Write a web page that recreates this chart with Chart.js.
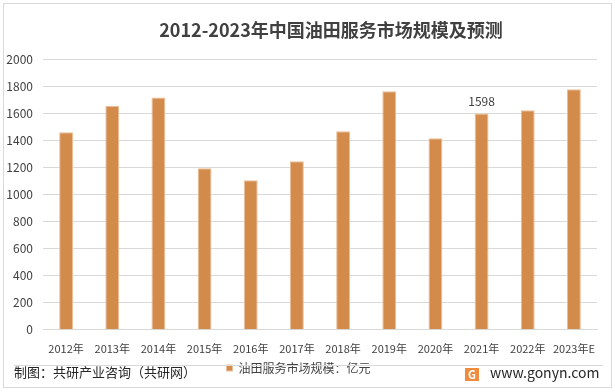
<!DOCTYPE html>
<html>
<head>
<meta charset="utf-8">
<script src="https://cdn.jsdelivr.net/npm/chart.js@4"></script>
<style>
  html, body { margin: 0; padding: 0; background: #fff; }
  #wrap { width: 615px; height: 392px; position: relative; }
</style>
</head>
<body>
<div id="wrap"><canvas id="myChart" width="615" height="392"></canvas></div>
<script>
const years = ['2012年', '2013年', '2014年', '2015年', '2016年', '2017年', '2018年', '2019年', '2020年', '2021年', '2022年', '2023年E'];
const marketSize = [1459, 1652, 1716, 1193, 1104, 1244, 1467, 1761, 1415, 1598, 1622, 1776];
const labelIndex = [9];
const yTicks = [0, 200, 400, 600, 800, 1000, 1200, 1400, 1600, 1800, 2000];
const titleText = '2012-2023年中国油田服务市场规模及预测';

const FONT = '"Noto Sans CJK SC", "Noto Sans", sans-serif';

// 标题、外框、底部分隔线、制图信息、数据标签
const decor = {
  id: 'decor',
  beforeDraw(chart) {
    const c = chart.ctx;
    c.save();
    c.fillStyle = '#fff';
    c.fillRect(0, 0, chart.width, chart.height);
    c.restore();
  },
  afterDraw(chart) {
    const c = chart.ctx;
    c.save();
    c.strokeStyle = '#d9d9d9';
    c.lineWidth = 1;
    c.strokeRect(3.5, 3.5, 608, 384);
    c.beginPath();
    c.moveTo(14, 365.5);
    c.lineTo(603, 365.5);
    c.stroke();

    c.fillStyle = '#404040';
    c.font = 'bold 18px ' + FONT;
    c.textAlign = 'center';
    c.textBaseline = 'middle';
    c.fillText(titleText, 331, 30);

    c.fillStyle = '#262626';
    c.font = '13px ' + FONT;
    c.textAlign = 'left';
    c.fillText('制图：共研产业咨询（共研网）', 14, 372);

    // gonyn logo + url
    c.fillStyle = '#f08a3c';
    c.fillRect(465, 368, 14, 13);
    c.fillStyle = '#fff';
    c.font = 'bold 11px ' + FONT;
    c.textAlign = 'center';
    c.fillText('G', 472, 374.5);
    c.fillStyle = '#262626';
    c.font = '14px ' + FONT;
    c.textAlign = 'left';
    c.fillText('www.gonyn.com', 490, 373);

    // 数据标签
    const meta = chart.getDatasetMeta(0);
    c.fillStyle = '#404040';
    c.font = '12px ' + FONT;
    c.textAlign = 'center';
    c.textBaseline = 'bottom';
    labelIndex.forEach(i => {
      const bar = meta.data[i];
      c.fillText(String(marketSize[i]), bar.x, bar.y - 6);
    });
    c.restore();
  }
};

const ctx = document.getElementById('myChart');
new Chart(ctx, {
  type: 'bar',
  data: {
    labels: years,
    datasets: [{
      label: '油田服务市场规模：亿元',
      data: marketSize,
      backgroundColor: '#d38b4c',
      borderColor: '#ecbd96',
      borderWidth: 1,
      barPercentage: 0.3,
      categoryPercentage: 1
    }]
  },
  options: {
    responsive: false,
    animation: false,
    layout: { padding: { left: 0, right: 18, top: 59, bottom: 8 } },
    scales: {
      x: {
        grid: { display: false },
        border: { color: '#d9d9d9' },
        ticks: { color: '#404040', font: { family: FONT, size: 11 }, maxRotation: 0, autoSkip: false, padding: 4.5 }
      },
      y: {
        min: 0,
        max: 2000,
        afterBuildTicks(axis) { axis.ticks = yTicks.map(v => ({ value: v })); },
        afterFit(axis) { axis.width = 43; },
        grid: { color: '#d9d9d9', drawTicks: false },
        border: { display: false },
        ticks: { color: '#404040', font: { family: FONT, size: 12 }, padding: 10, callback: v => String(v) }
      }
    },
    plugins: {
      title: { display: false },
      legend: {
        position: 'bottom',
        labels: {
          color: '#404040',
          font: { family: FONT, size: 12 },
          boxWidth: 6,
          boxHeight: 6,
          padding: 2
        }
      },
      tooltip: { enabled: false }
    }
  },
  plugins: [decor]
});
</script>
</body>
</html>
